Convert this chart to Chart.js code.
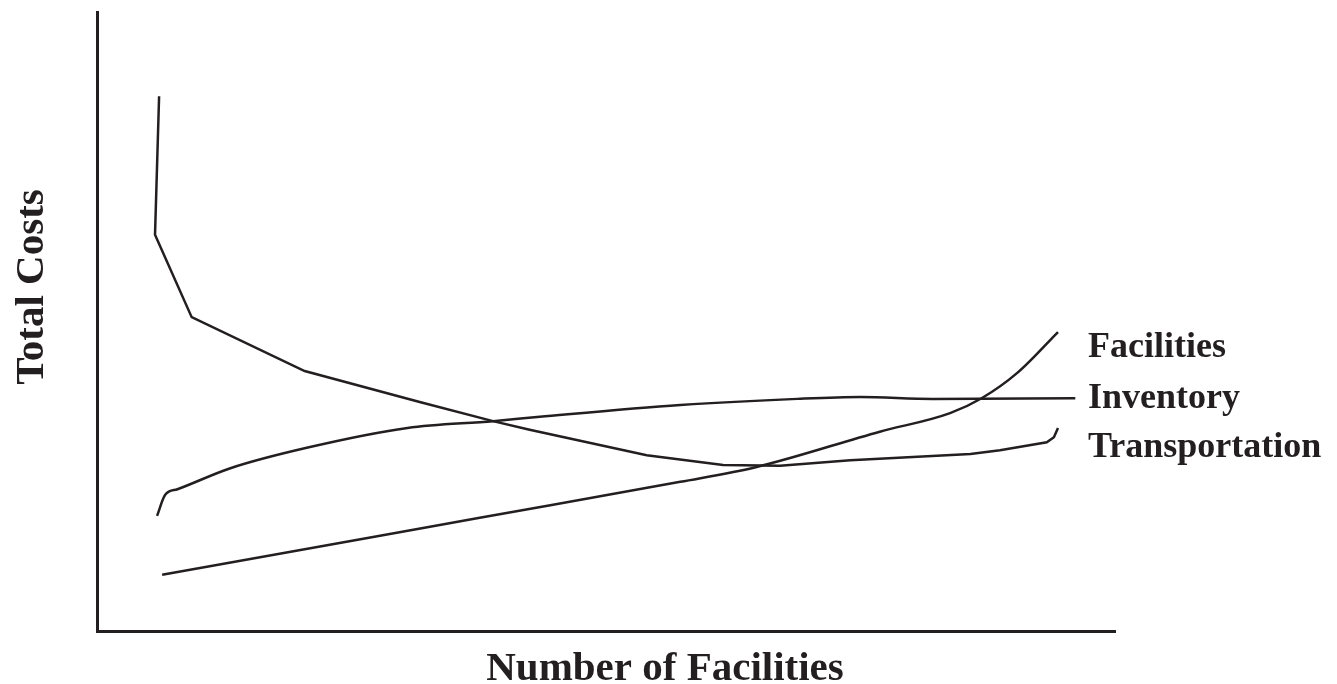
<!DOCTYPE html>
<html>
<head>
<meta charset="utf-8">
<title>Total Costs vs Number of Facilities</title>
<script src="https://cdn.jsdelivr.net/npm/chart.js@4.4.1/dist/chart.umd.min.js"></script>
<style>
  html, body { margin: 0; padding: 0; background: #fff; }
  #wrap { width: 1337px; height: 684px; }
</style>
</head>
<body>
<div id="wrap"><canvas id="costChart"></canvas></div>
<script>
// values, both axes in 0..100 units
const facilitiesX = [6.4, 27.8, 37.6, 57.3, 64.8, 76.9, 83.8, 86.9, 90.4, 94.4];
const facilitiesY = [9.1, 15.4, 18.3, 24.1, 26.5, 32.2, 35.2, 37.6, 41.7, 48.3];

const inventoryX = [5.9, 6.7, 7.9, 13.1, 20.6, 30.5, 38.9, 43.5, 57.3, 68.8, 75.0, 82.1, 96.1];
const inventoryY = [18.6, 22.0, 22.9, 26.3, 29.6, 32.8, 33.9, 34.6, 36.5, 37.5, 37.8, 37.5, 37.6];

const transportX = [6.1, 5.7, 9.3, 20.4, 31.7, 38.9, 42.5, 54.0, 61.5, 67.1, 74.0, 85.8, 88.7, 93.3, 94.0, 94.4];
const transportY = [86.4, 64.0, 50.7, 42.0, 37.0, 33.9, 32.5, 28.4, 26.8, 26.7, 27.6, 28.6, 29.2, 30.5, 31.3, 32.8];

const seriesLabels = ["Facilities", "Inventory", "Transportation"];
const xTitle = "Number of Facilities";
const yTitle = "Total Costs";

const ink = "#231f20";
const serif = "'Liberation Serif', 'Times New Roman', serif";

function toPoints(xs, ys) {
  return xs.map((x, i) => ({ x: x, y: ys[i] }));
}

function lineSet(label, xs, ys, smooth) {
  return {
    label: label,
    data: toPoints(xs, ys),
    borderColor: ink,
    borderWidth: 2.5,
    pointRadius: 0,
    fill: false,
    tension: 0,
    cubicInterpolationMode: smooth ? "monotone" : "default"
  };
}

// series names to the right of the lines plus the two axis titles
const textPlugin = {
  id: "sideText",
  afterDraw(chart) {
    const ctx = chart.ctx;
    const area = chart.chartArea;
    ctx.save();
    ctx.fillStyle = ink;
    ctx.textBaseline = "alphabetic";

    ctx.font = "bold 36px " + serif;
    ctx.textAlign = "left";
    const baselines = [357, 408, 457];
    seriesLabels.forEach((name, i) => {
      ctx.fillText(name, area.right - 27, baselines[i]);
    });

    ctx.font = "bold 41px " + serif;
    ctx.textAlign = "center";
    ctx.fillText(xTitle, 665, 680);

    ctx.translate(43, 287);
    ctx.rotate(-Math.PI / 2);
    ctx.fillText(yTitle, 0, 0);
    ctx.restore();
  }
};

const axisOpts = {
  min: 0,
  max: 100,
  grid: { display: false, drawTicks: false, tickLength: 0 },
  border: { display: true, color: ink, width: 3 },
  ticks: { display: false, padding: 0 }
};

new Chart(document.getElementById("costChart"), {
  type: "line",
  data: {
    datasets: [
      lineSet(seriesLabels[0], facilitiesX, facilitiesY, true),
      lineSet(seriesLabels[1], inventoryX, inventoryY, true),
      lineSet(seriesLabels[2], transportX, transportY, false)
    ]
  },
  options: {
    responsive: true,
    maintainAspectRatio: false,
    animation: false,
    layout: { padding: { left: 97, top: 12, right: 222, bottom: 53 } },
    plugins: {
      legend: { display: false },
      tooltip: { enabled: false }
    },
    scales: {
      x: Object.assign({ type: "linear" }, axisOpts),
      y: Object.assign({}, axisOpts)
    }
  },
  plugins: [textPlugin]
});
</script>
</body>
</html>
